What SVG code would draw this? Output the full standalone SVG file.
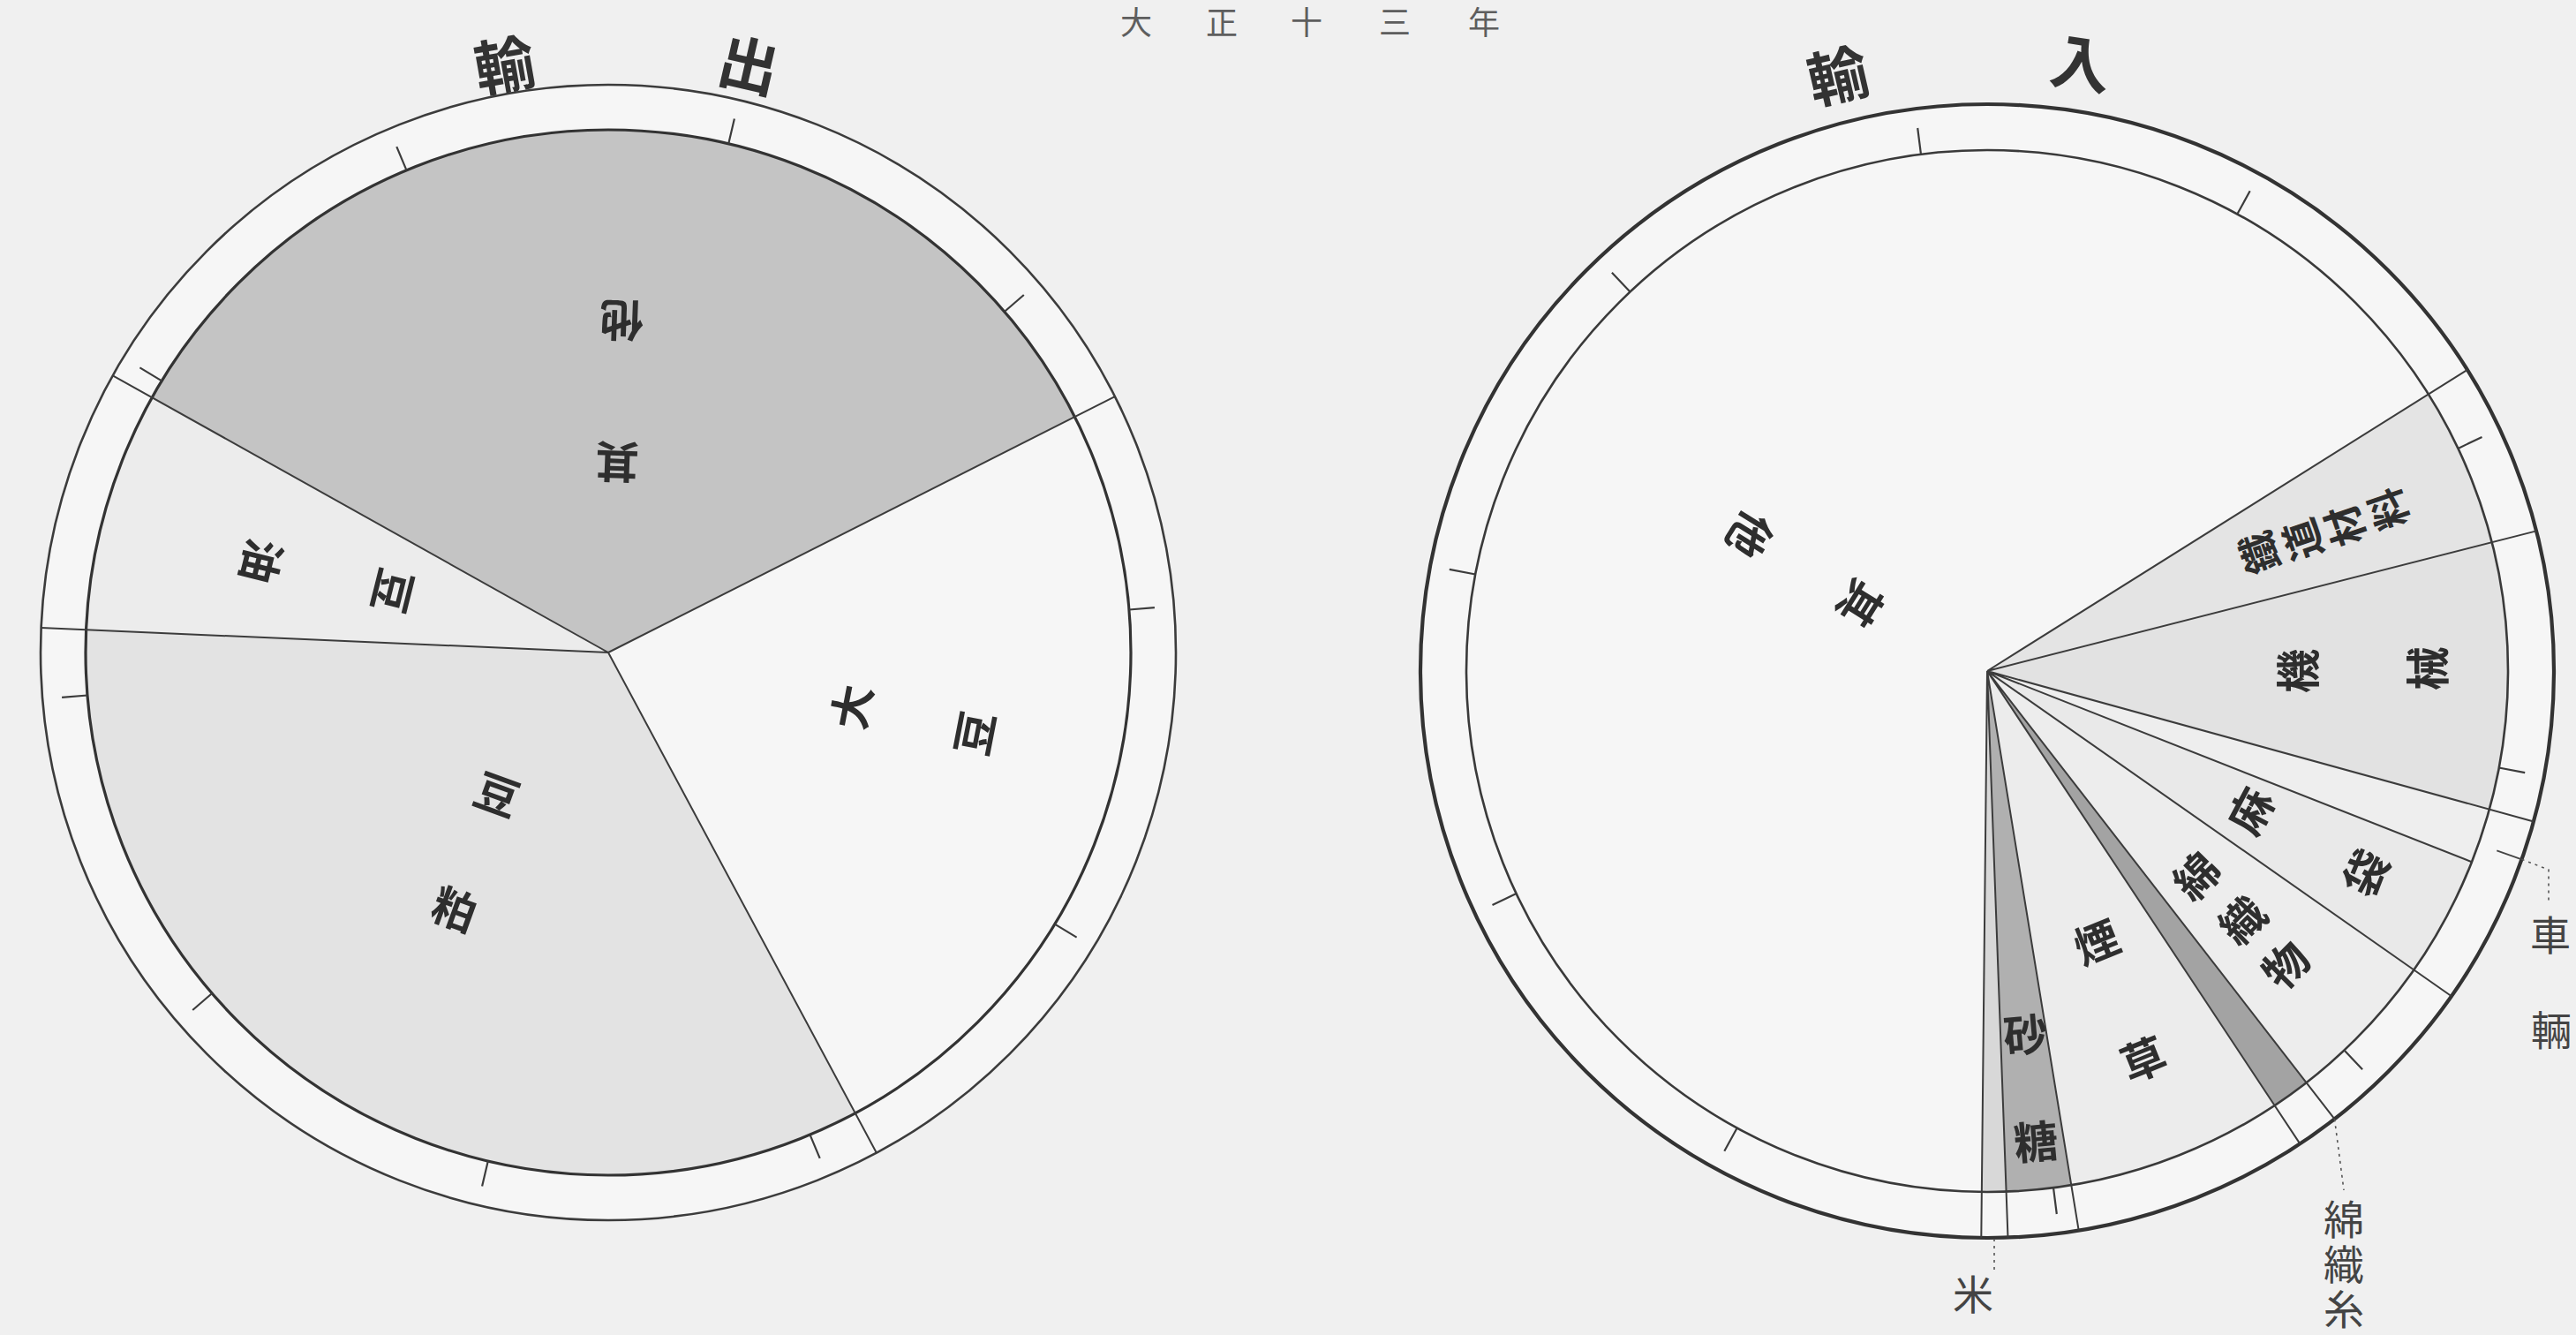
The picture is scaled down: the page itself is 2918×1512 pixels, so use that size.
<svg xmlns="http://www.w3.org/2000/svg" width="2918" height="1512" viewBox="0 0 2918 1512">
<style>
text{font-family:"Noto Sans CJK JP","Noto Sans CJK SC",sans-serif;text-anchor:middle;dominant-baseline:central;fill:#2e2e2e}
.lbl{font-size:50px;font-weight:700}
.lbs{font-size:46px;font-weight:700}
.out{font-size:46px;font-weight:400;fill:#444}
.vert{writing-mode:vertical-rl;letter-spacing:5px}
.head{font-size:68px;font-weight:700;fill:#333}
.title{font-size:36px;font-weight:400;fill:#5e5e5e}
.edge{stroke:#3c3c3c;stroke-width:2;fill:none}
.tick{stroke:#3c3c3c;stroke-width:2.2;fill:none}
.lead{stroke:#555;stroke-width:1.6;fill:none;stroke-dasharray:3 5}
.leads{stroke:#444;stroke-width:1.8;fill:none}
.sec{stroke:none}
</style>
<rect x="0" y="0" width="2918" height="1512" fill="#f0f0f0"/>

<g id="title">
<text class="title" x="1287" y="23">大</text>
<text class="title" x="1384" y="23">正</text>
<text class="title" x="1480" y="23">十</text>
<text class="title" x="1580" y="23">三</text>
<text class="title" x="1681" y="23">年</text>
</g>

<g id="export-chart">
<g id="export-heading">
<text class="head" x="571" y="70" transform="rotate(-10 571 70)">輸</text>
<text class="head" x="849" y="70" transform="rotate(13 849 70)">出</text>
</g>
<circle cx="689" cy="739" r="643" fill="#f6f6f6" stroke="#3c3c3c" stroke-width="2.6"/>
<g id="exp-daizu">
<path class="sec" fill="#f6f6f6" d="M689 739 L968.8 1260.7 A592 592 0 0 0 1217.4 472.1 Z"/>
<text class="lbl" x="962" y="800" transform="rotate(-79 962 800)">大</text>
<text class="lbl" x="1101" y="830" transform="rotate(-79 1101 830)">豆</text>
</g>
<g id="exp-sonota">
<path class="sec" fill="#c4c4c4" d="M689 739 L1217.4 472.1 A592 592 0 0 0 172.2 450.2 Z"/>
<text class="lbl" x="699" y="526" transform="rotate(182 699 526)">其</text>
<text class="lbl" x="704" y="366" transform="rotate(182 704 366)">他</text>
</g>
<g id="exp-mameabura">
<path class="sec" fill="#ececec" d="M689 739 L172.2 450.2 A592 592 0 0 0 97.6 713.2 Z"/>
<text class="lbl" x="448" y="670" transform="rotate(104 448 670)">豆</text>
<text class="lbl" x="299" y="636" transform="rotate(104 299 636)">油</text>
</g>
<g id="exp-mamekasu">
<path class="sec" fill="#e3e3e3" d="M689 739 L97.6 713.2 A592 592 0 0 0 968.8 1260.7 Z"/>
<text class="lbl" x="564" y="897" transform="rotate(20 564 897)">豆</text>
<text class="lbl" x="516" y="1027" transform="rotate(20 516 1027)">粕</text>
</g>
<circle cx="689" cy="739" r="592" fill="none" stroke="#333" stroke-width="3.2"/>
<g id="exp-edges">
<path class="edge" d="M689 739 L1262.9 449.1 M689 739 L127.7 425.3 M689 739 L46.6 711.0 M689 739 L992.9 1305.7"/>
</g>
<g id="exp-ticks">
<path class="tick" d="M1279.0 690.5 L1307.9 688.1 M1137.8 353.0 L1159.8 334.0 M825.2 162.9 L831.9 134.6 M460.5 192.9 L449.3 166.1 M183.2 431.4 L158.4 416.4 M99.0 787.5 L70.1 789.9 M240.2 1125.0 L218.2 1144.0 M552.8 1315.1 L546.1 1343.4 M917.5 1285.1 L928.7 1311.9 M1194.8 1046.6 L1219.6 1061.6"/>
</g>
</g>

<g id="import-chart">
<g id="import-heading">
<text class="head" x="2081" y="82" transform="rotate(-13 2081 82)">輸</text>
<text class="head" x="2358" y="68" transform="rotate(9 2358 68)">入</text>
</g>
<circle cx="2251" cy="760" r="642" fill="#f6f6f6" stroke="#333" stroke-width="4.2"/>
<g id="imp-sonota">
<path class="sec" fill="#f6f6f6" d="M2251 760 L2750.8 446.5 A590 590 0 1 0 2244.8 1350.0 Z"/>
<text class="lbl" x="2110" y="685" transform="rotate(122 2110 685)">其</text>
<text class="lbl" x="1985" y="607" transform="rotate(122 1985 607)">他</text>
</g>
<g id="imp-kome">
<path class="sec" fill="#d8d8d8" d="M2251 760 L2244.8 1350.0 A590 590 0 0 0 2272.6 1349.6 Z"/>
</g>
<g id="imp-sato">
<path class="sec" fill="#b0b0b0" d="M2251 760 L2272.6 1349.6 A590 590 0 0 0 2346.3 1342.2 Z"/>
<text class="lbl" x="2294" y="1169" transform="rotate(-5 2294 1169)">砂</text>
<text class="lbl" x="2306" y="1290" transform="rotate(-5 2306 1290)">糖</text>
</g>
<g id="imp-tabako">
<path class="sec" fill="#ececec" d="M2251 760 L2346.3 1342.2 A590 590 0 0 0 2576.6 1252.0 Z"/>
<text class="lbl" x="2374" y="1064" transform="rotate(-22 2374 1064)">煙</text>
<text class="lbl" x="2427" y="1197" transform="rotate(-22 2427 1197)">草</text>
</g>
<g id="imp-menshokushi">
<path class="sec" fill="#a3a3a3" d="M2251 760 L2576.6 1252.0 A590 590 0 0 0 2612.6 1226.2 Z"/>
</g>
<g id="imp-menorimono">
<path class="sec" fill="#ededed" d="M2251 760 L2612.6 1226.2 A590 590 0 0 0 2734.3 1098.4 Z"/>
<text class="lbl" x="2486" y="990" transform="rotate(-45 2486 990)">綿</text>
<text class="lbl" x="2538" y="1040" transform="rotate(-45 2538 1040)">織</text>
<text class="lbl" x="2587" y="1091" transform="rotate(-45 2587 1091)">物</text>
</g>
<g id="imp-matai">
<path class="sec" fill="#e9e9e9" d="M2251 760 L2734.3 1098.4 A590 590 0 0 0 2799.9 976.2 Z"/>
<text class="lbl" x="2547" y="917" transform="rotate(-62 2547 917)">麻</text>
<text class="lbl" x="2677" y="987" transform="rotate(-62 2677 987)">袋</text>
</g>
<g id="imp-sharyo">
<path class="sec" fill="#eeeeee" d="M2251 760 L2799.9 976.2 A590 590 0 0 0 2819.8 916.7 Z"/>
</g>
<g id="imp-kikai">
<path class="sec" fill="#e2e2e2" d="M2251 760 L2819.8 916.7 A590 590 0 0 0 2822.7 614.3 Z"/>
<text class="lbl" x="2600" y="760" transform="rotate(-90 2600 760)">機</text>
<text class="lbl" x="2747" y="757" transform="rotate(-90 2747 757)">械</text>
</g>
<g id="imp-tetsudozairyo">
<path class="sec" fill="#e4e4e4" d="M2251 760 L2822.7 614.3 A590 590 0 0 0 2750.8 446.5 Z"/>
<text class="lbs" x="2557" y="627" transform="rotate(-109 2557 627)">鐵</text>
<text class="lbs" x="2606" y="612" transform="rotate(-109 2606 612)">道</text>
<text class="lbs" x="2654" y="596" transform="rotate(-109 2654 596)">材</text>
<text class="lbs" x="2703" y="577" transform="rotate(-109 2703 577)">料</text>
</g>
<circle cx="2251" cy="760" r="590" fill="none" stroke="#3a3a3a" stroke-width="2.6"/>
<g id="imp-edges">
<path class="edge" d="M2251 760 L2794.9 418.8 M2251 760 L2873.1 601.4 M2251 760 L2870.0 930.5 M2251 760 L2799.9 976.2 M2251 760 L2776.9 1128.2 M2251 760 L2644.5 1267.3 M2251 760 L2605.3 1295.4 M2251 760 L2354.7 1393.6 M2251 760 L2274.5 1401.6 M2251 760 L2244.3 1402.0"/>
</g>
<g id="imp-ticks">
<path class="tick" d="M2784.4 507.9 L2811.5 495.0 M2534.3 242.5 L2548.7 216.2 M2176.0 174.8 L2172.2 145.0 M1846.5 330.5 L1825.9 308.7 M1671.3 650.5 L1641.8 644.9 M1717.6 1012.1 L1690.5 1025.0 M1967.7 1277.5 L1953.3 1303.8 M2326.0 1345.2 L2329.8 1375.0 M2655.5 1189.5 L2676.1 1211.3 M2830.7 869.5 L2860.2 875.1"/>
</g>
<g id="imp-outside-labels">
<g id="lbl-sharyo">
<text class="out" x="2889" y="1056">車</text>
<text class="out" x="2890" y="1164">輛</text>
</g>
<g id="lbl-menshokushi">
<text class="out vert" x="2655" y="1434">綿織糸</text>
</g>
<g id="lbl-kome">
<text class="out" x="2235" y="1463">米</text>
</g>
</g>
</g>

<g id="connectors">
<path class="leads" d="M2828.3 963.3 L2856.6 973.3"/>
<path class="lead" d="M2856.6 973.3 L2887 985 L2887 1024"/>
<path class="lead" d="M2644.5 1267.3 L2655 1348"/>
<path class="lead" d="M2259 1403 L2259 1440"/>
</g>
</svg>
